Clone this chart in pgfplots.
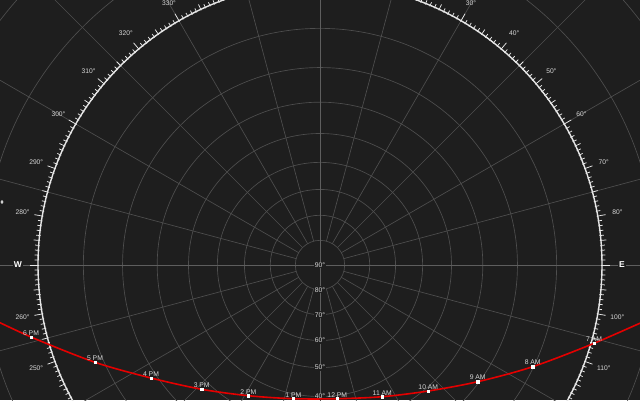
\documentclass[border=0pt]{standalone}
\usepackage{pgfplots}
\pgfplotsset{compat=1.18}
\usepackage{fontspec}
\setmainfont{Liberation Sans}
\definecolor{bg}{HTML}{1E1E1E}
\definecolor{gridc}{HTML}{4E4E4E}
\definecolor{axc}{HTML}{5E5E5E}
\definecolor{lab}{HTML}{D8D8D8}
\definecolor{tickc}{HTML}{E6E6E6}
\definecolor{sun}{HTML}{E40000}
\begin{document}
\begin{tikzpicture}[x=1pt,y=1pt]
\useasboundingbox (0,0) rectangle (640,400);
\clip (0,0) rectangle (640,400);
\fill[bg] (0,0) rectangle (640,400);
\begin{scope}[shift={(320,135)}]
  % altitude rings (stereographic)
  \foreach \r in {24.67,49.72,75.56,102.64,131.50,162.81,197.46,236.63,336.07,402.7,488.4}
    \draw[gridc, line width=0.65] (0,0) circle[radius=\r];
  % azimuth spokes
  \foreach \a in {15,30,45,60,75,105,120,135,150,165,195,210,225,240,255,285,300,315,330,345}
    \draw[gridc, line width=0.65] ({90-\a}:24.67) -- ({90-\a}:520);
  \draw[axc, line width=0.75] (-400,0) -- (400,0);
  \draw[axc, line width=0.75] (0,-400) -- (0,400);
  % horizon ticks
  \foreach \a in {0,...,359}{
    \pgfmathsetmacro\len{mod(\a,10)==0 ? 8 : (mod(\a,5)==0 ? 5.5 : 3.5)}
    \draw[tickc, line width=0.75] ({90-\a}:281) -- ({90-\a}:{282+\len});
  }
  \draw[tickc, line width=1.4] (0,0) circle[radius=282];
  % azimuth labels
  \foreach \a in {10,20,30,40,50,60,70,80,100,110,120,130,140,150,160,170,190,200,210,220,230,240,250,260,280,290,300,310,320,330,340,350}
    \node[text=lab, font=\fontsize{6.7}{7}\selectfont, inner sep=0pt] at ({90-\a}:302) {\a°};
  \node[text=white, fill=bg, font=\fontsize{8.5}{9}\selectfont\bfseries, inner sep=1pt] at (0:302) {E};
  \node[text=white, fill=bg, font=\fontsize{8.5}{9}\selectfont\bfseries, inner sep=1pt] at (180:302) {W};
  % altitude labels
  \node[text=lab, fill=bg, font=\fontsize{6.8}{7}\selectfont, inner sep=1pt] at (0,0) {90°};
  \foreach \r/\t in {24.67/80,49.72/70,75.56/60,102.64/50,131.50/40}
    \node[text=lab, fill=bg, font=\fontsize{6.8}{7}\selectfont, inner sep=1pt] at (0,-\r) {\t°};
\end{scope}
\begin{axis}[at={(0,0)}, anchor=south west, width=640pt, height=400pt,
  scale only axis, xmin=-320, xmax=320, ymin=-135, ymax=265, hide axis, clip=false]
  \addplot[sun, line width=1.6, smooth] table {
    x y
    -336 -50
    -289 -72
    -225 -97.3
    -169 -113
    -118.3 -124.3
    -71.7 -130.7
    -26.7 -133.7
    17.3 -133.7
    62.3 -131.7
    108.3 -126
    157.7 -116.7
    212.7 -101.7
    274 -78.3
    336 -51
  };
  \addplot[only marks, mark=square*, mark size=1.1, mark options={fill=white, draw=white},
    nodes near coords, point meta=explicit symbolic,
    nodes near coords style={text=lab, font=\fontsize{6.8}{7}\selectfont, anchor=south, inner sep=0.5pt, yshift=1pt}]
    table[col sep=comma, meta=label] {
    x,y,label
    -289,-72,6 PM
    -225,-97.3,5 PM
    -169,-113,4 PM
    -118.3,-124.3,3 PM
    -71.7,-130.7,2 PM
    -26.7,-133.7,1 PM
    17.3,-133.7,12 PM
    62.3,-131.7,11 AM
    108.3,-126,10 AM
    157.7,-116.7,9 AM
    212.7,-101.7,8 AM
    274,-78.3,7 AM
  };
  \addplot[only marks, mark=diamond*, mark size=1.6, mark options={fill=white!85!black, draw=white!85!black}] coordinates {(-318,63)};
\end{axis}
\end{tikzpicture}
\end{document}
